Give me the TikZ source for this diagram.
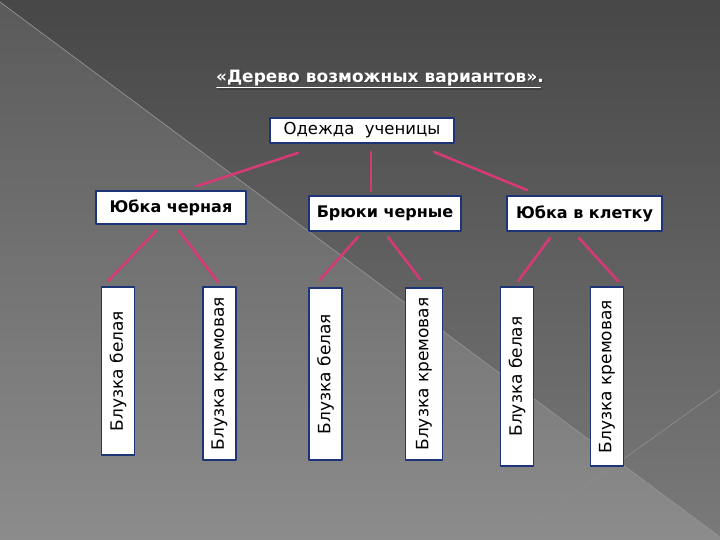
\documentclass[tikz,border=0pt]{standalone}
\usepackage{fontspec}
\setmainfont{DejaVu Sans}
\usetikzlibrary{calc}
\definecolor{navy}{RGB}{30,52,120}
\definecolor{pinkline}{RGB}{212,58,118}
\definecolor{bgtop}{RGB}{71,71,71}
\definecolor{bgbot}{RGB}{122,122,122}
\definecolor{bgltop}{RGB}{90,90,90}
\definecolor{bglbot}{RGB}{140,140,140}
\begin{document}
\begin{tikzpicture}[x=1pt,y=-1pt,line join=round,line cap=round,
	box/.style={rectangle,draw=navy,line width=1.8pt,fill=white,inner sep=0pt,text=black},
	level/.style={box,font=\fontsize{16.5}{18}\selectfont},
	mid/.style={box,font=\bfseries\fontsize{16}{18}\selectfont},
	leaf/.style={box,minimum width=33pt,font=\fontsize{17}{19}\selectfont},
	ttl/.style={inner sep=0pt,font=\bfseries\fontsize{17}{19}\selectfont},
	lnk/.style={pinkline,line width=2.6pt}]
	\useasboundingbox(0,0)rectangle(720,540);
	%Nền
	\shade[top color=bgtop,bottom color=bgbot](0,0)rectangle(720,540);
	\shade[top color=bgltop,bottom color=bglbot](0,2)--(720,537)--(720,540)--(0,540)--cycle;
	\draw[gray!85!white,line width=0.7pt](0,2)--(720,537);
	\draw[gray!90!white,line width=0.7pt](720,390)--(510,540);
	%Tiêu đề
	\path(381.5,79.5)node[ttl,text=black!75](tsh){«Дерево возможных вариантов».}
	(380,78)node[ttl,text=white](title){«Дерево возможных вариантов».};
	\draw[black!75,line width=1.4pt]($(tsh.base west)+(1,5)$)--($(tsh.base east)+(-4,5)$);
	\draw[white,line width=1.4pt]($(title.base west)+(1,5)$)--($(title.base east)+(-4,5)$);
	%Cấp 0
	\path(362,130.5)node[level,minimum width=184pt,minimum height=25pt](root){Одежда\ \ ученицы};
	%Cấp 1
	\path(root)++(-191,77)node[mid,minimum width=150pt,minimum height=33pt](yc){Юбка черная}
	(root)++(23,83)node[mid,minimum width=152pt,minimum height=35pt](bc){Брюки черные}
	(root)++(222.5,83)node[mid,minimum width=155pt,minimum height=35pt](yk){Юбка в клетку};
	%Cấp 2
	\path(118,371)node[leaf,minimum height=168pt](b1){\rotatebox{90}{Блузка белая}}
	(219.5,373.5)node[leaf,minimum height=173pt](b2){\rotatebox{90}{Блузка кремовая}}
	(325.5,374)node[leaf,minimum height=172pt](b3){\rotatebox{90}{Блузка белая}}
	(424,374)node[leaf,minimum width=37pt,minimum height=172pt](b4){\rotatebox{90}{Блузка кремовая}}
	(517,376.5)node[leaf,minimum height=179pt](b5){\rotatebox{90}{Блузка белая}}
	(607,376.5)node[leaf,minimum height=179pt](b6){\rotatebox{90}{Блузка кремовая}};
	%Vẽ
	\draw[lnk]($(root.south)+(-64,9)$)--($(yc.north)+(26,-4)$);
	\draw[lnk]($(root.south)+(9,8)$)--($(bc.north)+(-14,-4)$);
	\draw[lnk]($(root.south)+(72,8)$)--($(yk.north)+(-57.5,-5)$);
	%%%
	\draw[lnk]($(yc.south)+(-15,6)$)--($(b1.north)+(-10,-5)$);
	\draw[lnk]($(yc.south)+(8,6)$)--($(b2.north)+(-1.5,-4)$);
	\draw[lnk]($(bc.south)+(-27,5)$)--($(b3.north)+(-6,-7)$);
	\draw[lnk]($(bc.south)+(3,5)$)--($(b4.north)+(-4,-8)$);
	\draw[lnk]($(yk.south)+(-34.5,6)$)--($(b5.north)+(1,-5)$);
	\draw[lnk]($(yk.south)+(-5.5,6)$)--($(b6.north)+(11,-5)$);
\end{tikzpicture}
\end{document}
